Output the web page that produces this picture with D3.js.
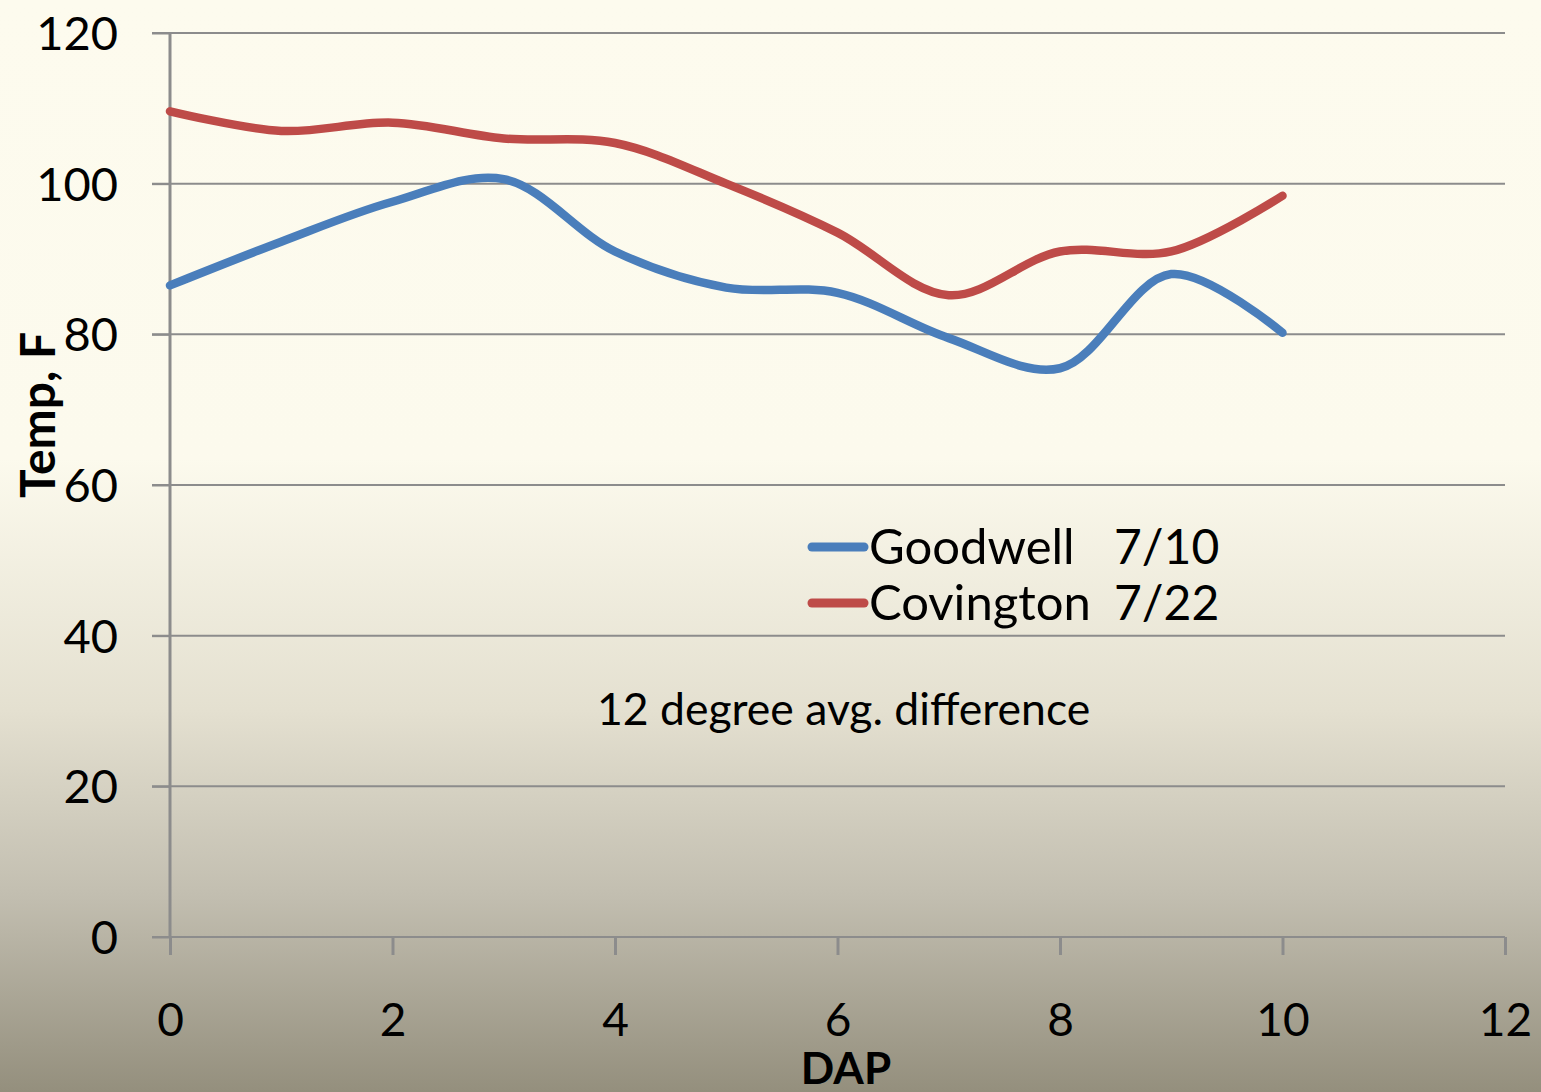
<!DOCTYPE html>
<html><head><meta charset="utf-8">
<script src="https://cdn.jsdelivr.net/npm/d3@7"></script>
<style>html,body{margin:0;padding:0;overflow:hidden;}svg{display:block;}</style>
</head><body>
<svg id="c" width="1541" height="1092"></svg>
<script>
const dap = [0,1,2,3,4,5,6,7,8,9,10];
const goodwell = [86.5,92.3,97.6,100.6,91.0,86.2,85.5,79.5,75.5,88.0,80.2];
const covington = [109.6,107.0,108.1,106.0,105.4,100.0,93.5,85.2,91.0,91.0,98.4];
const seriesNames = ["Goodwell","Covington"];
const seriesDates = ["7/10","7/22"];
const xTicks = [0,2,4,6,8,10,12];
const yTicks = [0,20,40,60,80,100,120];

const svg = d3.select("#c");
const W = 1541, H = 1092;
const defs = svg.append("defs");
const g = defs.append("linearGradient").attr("id","bg").attr("x1",0).attr("y1",0).attr("x2",0).attr("y2",1);
g.append("stop").attr("offset","0%").attr("stop-color","#fdfbee");
g.append("stop").attr("offset","42%").attr("stop-color","#fcfaed");
g.append("stop").attr("offset","65%").attr("stop-color","#e4e0d0");
g.append("stop").attr("offset","82%").attr("stop-color","#c2beb0");
g.append("stop").attr("offset","100%").attr("stop-color","#948f7d");
svg.append("rect").attr("width",W).attr("height",H).attr("fill","url(#bg)");

const x = d3.scaleLinear().domain([0,12]).range([170,1505]);
const y = d3.scaleLinear().domain([0,120]).range([937,33]);
const font = "Lato, 'Open Sans', sans-serif";

// gridlines
svg.append("g").selectAll("line").data(yTicks.filter(d=>d>0)).join("line")
  .attr("x1",152).attr("x2",1505).attr("y1",d=>y(d)).attr("y2",d=>y(d))
  .attr("stroke","#8c8c8c").attr("stroke-width",2);

// y axis
const ya = svg.append("g").attr("transform","translate(170,0)")
  .call(d3.axisLeft(y).tickValues(yTicks).tickSize(18).tickPadding(14));
ya.select(".domain").attr("stroke","#8c8c8c").attr("stroke-width",3).attr("d","M0,"+y(0)+"V"+y(120));
ya.selectAll(".tick line").attr("stroke","#8c8c8c").attr("stroke-width",2);
ya.selectAll(".tick text").attr("font-family",font).attr("font-size",47).attr("fill","#000")
  .attr("dy","0.35em").attr("x",-52);

// x axis
const xa = svg.append("g").attr("transform","translate(0,"+y(0)+")")
  .call(d3.axisBottom(x).tickValues(xTicks).tickSize(18).tickPadding(48));
xa.select(".domain").attr("stroke","#8c8c8c").attr("stroke-width",2).attr("d","M152,0H1505");
xa.selectAll(".tick line").attr("stroke","#8c8c8c").attr("stroke-width",3);
xa.selectAll(".tick text").attr("font-family",font).attr("font-size",46).attr("fill","#000");

// lines
const line = d3.line().x((d,i)=>x(dap[i])).y(d=>y(d)).curve(d3.curveCatmullRom.alpha(0.5));
const colors = ["#4a7ebb","#be4b48"];
[goodwell,covington].forEach((s,i)=>{
  svg.append("path").attr("d",line(s)).attr("fill","none").attr("stroke",colors[i])
    .attr("stroke-width",8.5).attr("stroke-linecap","round").attr("stroke-linejoin","round");
});

// legend
const lg = svg.append("g");
seriesNames.forEach((n,i)=>{
  const yy = 547 + i*56;
  lg.append("line").attr("x1",812).attr("x2",864).attr("y1",yy).attr("y2",yy)
    .attr("stroke",colors[i]).attr("stroke-width",9).attr("stroke-linecap","round");
  lg.append("text").attr("x",869).attr("y",yy+17).attr("font-family",font).attr("font-size",49)
    .attr("fill","#000").text(n);
  lg.append("text").attr("x",1114).attr("y",yy+17).attr("font-family",font).attr("font-size",48)
    .attr("fill","#000").text(seriesDates[i]);
});

// annotation
svg.append("text").attr("x",597).attr("y",725).attr("font-family",font).attr("font-size",44.5)
  .attr("fill","#000").text("12 degree avg. difference");

// axis titles
svg.append("text").attr("x",846).attr("y",1084).attr("text-anchor","middle").attr("font-family",font)
  .attr("font-weight","bold").attr("font-size",44).attr("fill","#000").text("DAP");
svg.append("text").attr("transform","translate(55,415) rotate(-90)").attr("text-anchor","middle")
  .attr("font-family",font).attr("font-weight","bold").attr("font-size",48).attr("fill","#000").text("Temp, F");
</script>
</body></html>
